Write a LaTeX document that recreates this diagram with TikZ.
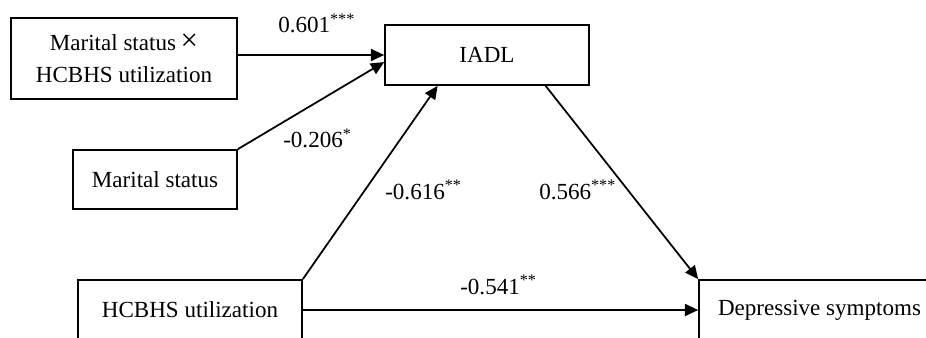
\documentclass[tikz,border=0pt]{standalone}
\usepackage{fontspec}
\setmainfont{Liberation Serif}
\usetikzlibrary{arrows.meta,calc}
\tikzset{
  varbox/.style={draw=black, line width=1.2pt, align=center, inner sep=0pt,
    font=\fontsize{16.4pt}{22.5pt}\selectfont},
  coeflabel/.style={font=\fontsize{16.4pt}{19pt}\selectfont, anchor=base west,
    inner sep=0pt},
  pathflow/.style={-{Triangle[length=3.3mm,width=3mm]}, draw=black, line width=1.25pt}
}
\begin{document}
\begin{tikzpicture}[x=1cm,y=1cm]
  \useasboundingbox (0,0) rectangle (23.15,8.425);
  % variables of the moderated mediation model
  \node[varbox, minimum width=5.65cm, minimum height=2.025cm] (mxh) at (3.10,6.961)
    {Marital status\hspace{0.2em}{\fontsize{22pt}{22pt}\selectfont ×}\\HCBHS utilization};
  \node[varbox, minimum width=5.10cm, minimum height=1.5cm] (iadl) at (12.175,7.05) {IADL};
  \node[varbox, minimum width=4.10cm, minimum height=1.475cm] (ms) at (3.875,3.9375) {Marital status};
  \node[varbox, minimum width=5.60cm, minimum height=1.5cm] (hcbhs) at (4.75,0.675) {HCBHS utilization};
  \node[varbox, minimum width=6.025cm, minimum height=1.5cm] (dep) at (20.4875,0.675) {Depressive symptoms};

  % paths
  \draw[pathflow] (mxh.east |- iadl.west) -- (iadl.west);
  \draw[pathflow] (ms.north east) -- ($(iadl.west)!0.23!(iadl.south west)$);
  \draw[pathflow] (hcbhs.north east) -- ($(iadl.south)!0.48!(iadl.south west)$);
  \draw[pathflow] ($(iadl.south)!0.57!(iadl.south east)$) -- (dep.north west);
  \draw[pathflow] (hcbhs.east) -- (dep.west);

  % path coefficients
  \node[coeflabel] (c1) at (6.95,7.6) {0.601\textsuperscript{***}};
  \node[coeflabel] (c2) at (7.075,4.725) {-0.206\textsuperscript{*}};
  \node[coeflabel] (c3) at (9.625,3.45) {-0.616\textsuperscript{**}};
  \node[coeflabel] (c4) at (13.475,3.45) {0.566\textsuperscript{***}};
  \node[coeflabel] (c5) at (11.5,1.075) {-0.541\textsuperscript{**}};
\end{tikzpicture}
\end{document}
